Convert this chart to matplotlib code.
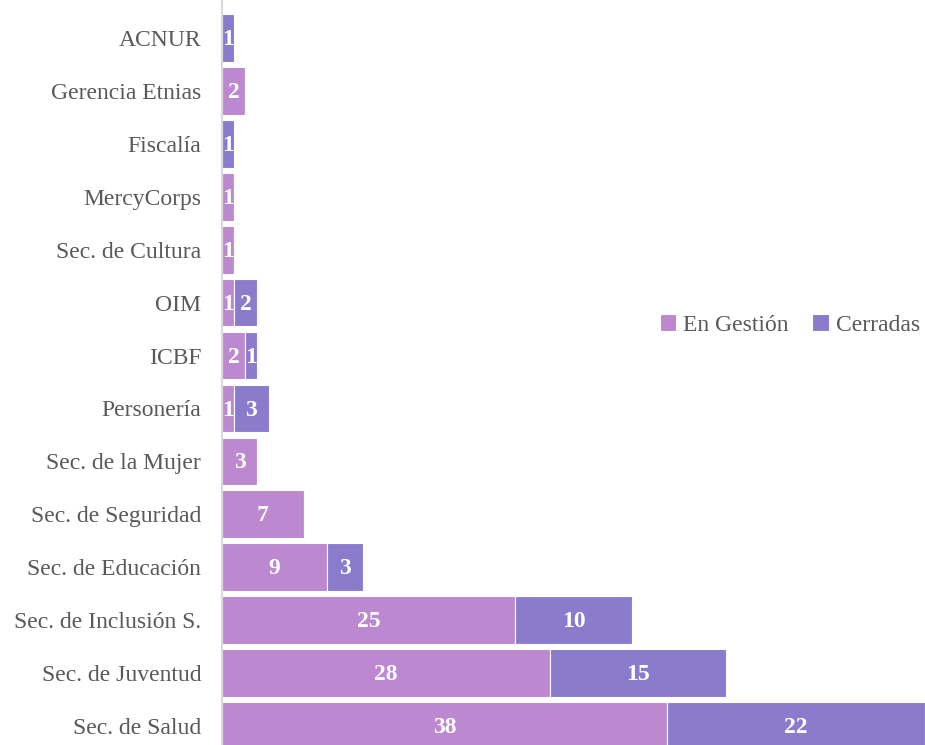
import matplotlib.pyplot as plt
import numpy as np

# Datos (de abajo hacia arriba)
categorias = ['Sec. de Salud', 'Sec. de Juventud', 'Sec. de Inclusión S.', 'Sec. de Educación',
              'Sec. de Seguridad', 'Sec. de la Mujer', 'Personería', 'ICBF', 'OIM',
              'Sec. de Cultura', 'MercyCorps', 'Fiscalía', 'Gerencia Etnias', 'ACNUR']
en_gestion = [38, 28, 25, 9, 7, 3, 1, 2, 1, 1, 1, 0, 2, 0]
cerradas = [22, 15, 10, 3, 0, 0, 3, 1, 2, 0, 0, 1, 0, 1]

color_gestion = '#BC88D0'
color_cerradas = '#8B7BCD'
fuente = 'Liberation Serif'

fig = plt.figure(figsize=(9.25, 7.45), dpi=100)
ax = fig.add_axes([0.24, 0.0, 0.76, 1.0])

y = np.arange(len(categorias))
b1 = ax.barh(y, en_gestion, height=0.9, color=color_gestion, edgecolor='white', linewidth=0.8,
             label='En Gestión')
b2 = ax.barh(y, cerradas, height=0.9, left=en_gestion, color=color_cerradas, edgecolor='white',
             linewidth=0.8, label='Cerradas')

# Etiquetas de datos
for barras, valores in ((b1, en_gestion), (b2, cerradas)):
    for rect, v in zip(barras, valores):
        if v == 0:
            continue
        cx = rect.get_x() + rect.get_width() / 2
        cy = rect.get_y() + rect.get_height() / 2
        ax.text(cx, cy - 0.03, str(v), ha='center', va='center', color='white',
                fontsize=17, fontweight='bold', family=fuente)

ax.set_xlim(0, 60)
ax.set_ylim(-0.36, 13.72)
ax.set_yticks(y)
ax.set_yticklabels(categorias, family=fuente, fontsize=17, color='#595959')
ax.tick_params(axis='y', length=0, pad=15)
ax.set_xticks([])
for lado in ['top', 'right', 'bottom']:
    ax.spines[lado].set_visible(False)
ax.spines['left'].set_color('#d9d9d9')
ax.spines['left'].set_linewidth(1.5)

fig.legend(handles=[b1, b2], loc='center', bbox_to_anchor=(790 / 925, 1 - 325 / 745),
           ncol=2, frameon=False, handlelength=0.7, handleheight=0.7, handletextpad=0.3,
           columnspacing=1.0, prop={'family': fuente, 'size': 17}, labelcolor='#595959')

plt.savefig('out.png', dpi=100)
